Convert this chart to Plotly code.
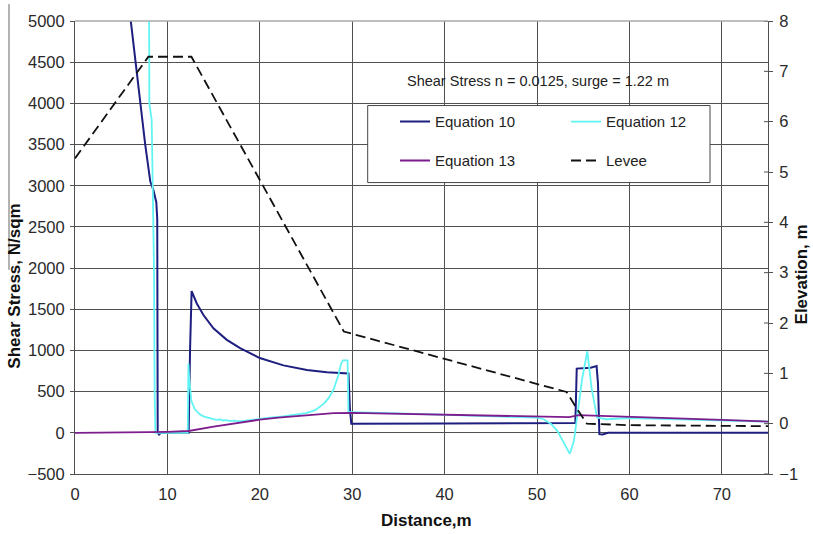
import plotly.graph_objects as go

# ---------------- data ----------------
eq10_x = [0, 6.03, 6.55, 7.1, 7.6, 8.15, 8.48, 8.8, 8.9, 8.95, 9.1, 9.3, 12.3, 12.45, 12.62,
          13.18, 13.9, 14.98, 16.43, 17.87, 20.0, 22.56, 25.1, 27.26, 29.42, 29.6, 29.75, 29.9,
          40, 50, 54.15, 54.3, 55.0, 55.8, 56.45, 56.6, 56.75, 57.1, 57.7, 60, 75]
eq10_y = [10800, 5000, 4500, 4000, 3500, 3050, 2950, 2800, 2600, 0, -20, 0, 0, 1000, 1720,
          1570, 1430, 1269, 1129, 1028, 908, 819, 763, 735, 723, 720, 300, 110,
          112, 115, 120, 780, 782, 790, 810, 600, -16, -20, 0, 0, 0]

eq12_x = [0, 7.9, 8.02, 8.05, 8.3, 8.45, 8.55, 8.62, 8.7, 12.2, 12.28, 12.35, 12.6, 12.96,
          13.5, 13.9, 14.3, 14.7, 15.0, 15.3, 15.7, 16.0, 16.4, 16.8, 17.2, 17.8, 18.5, 19.3,
          20.0, 21.1, 22.5, 24.0, 25.0, 26.0, 27.0, 27.5, 28.0, 28.5, 28.8, 29.0, 29.5, 29.6,
          30, 35, 40, 45, 50, 50.7, 51.5, 52.2, 52.9, 53.55, 54.0, 54.4, 54.9, 55.45, 55.9,
          56.5, 57.5, 60, 65, 70, 75]
eq12_y = [40000, 12000, 5000, 4000, 3800, 2900, 2000, 500, 0, 0, 840, 666, 386, 285,
          225, 200, 184, 176, 165, 157, 162, 150, 155, 143, 148, 140, 150, 158,
          175, 184, 200, 222, 240, 275, 360, 430, 530, 700, 840, 880, 880, 250,
          250, 235, 217, 200, 184, 165, 110, 24, -116, -255, -96, 225, 666, 990, 546,
          185, 165, 180, 165, 150, 136]

eq13_x = [0, 4, 6, 8, 10, 12.3, 15, 17, 20, 22, 25, 28, 30, 35, 40, 45, 50, 53.5, 54.5, 56, 60, 65, 70, 75]
eq13_y = [0, 0, 3, 8, 12, 22, 75, 110, 160, 185, 210, 240, 242, 230, 217, 205, 193, 190, 215, 210, 190, 175, 157, 136]

levee_x = [0, 7.94, 12.6, 29.1, 53.2, 54.3, 55.4, 60, 75]
levee_y = [5.27, 7.29, 7.29, 1.83, 0.63, 0.3, 0.0, -0.03, -0.05]

x_ticks = [0, 10, 20, 30, 40, 50, 60, 70]
y_ticks = list(range(-500, 5001, 500))
y2_ticks = list(range(-1, 9))

title_text = "Shear Stress n = 0.0125, surge = 1.22 m"

# ---------------- figure ----------------
FONT = "Liberation Sans, Arial, sans-serif"
fig = go.Figure()
fig.add_trace(go.Scatter(x=eq10_x, y=eq10_y, name="Equation 10", mode="lines",
                         line=dict(color="#1e1e80", width=2), legend="legend"))
fig.add_trace(go.Scatter(x=eq12_x, y=eq12_y, name="Equation 12", mode="lines",
                         line=dict(color="#62f4f4", width=1.8), legend="legend"))
fig.add_trace(go.Scatter(x=eq13_x, y=eq13_y, name="Equation 13", mode="lines",
                         line=dict(color="#7d1c8c", width=1.8), legend="legend2"))
fig.add_trace(go.Scatter(x=levee_x, y=levee_y, name="Levee", mode="lines", yaxis="y2",
                         line=dict(color="#111111", width=1.8, dash="10px,5px"), legend="legend2"))

W, H = 813, 534
ml, mr, mt, mb = 75, 45, 17, 60
pw, ph = W - ml - mr, H - mt - mb


def px(x):
    return (x - ml) / pw


def py(y):
    return (H - mb - y) / ph


grid = "#505050"
tickfont = dict(family=FONT, size=16.5, color="#2a2a2a")
legfont = dict(family=FONT, size=15, color="#222")

fig.update_layout(
    width=W, height=H,
    margin=dict(l=ml, r=mr, t=mt, b=mb),
    paper_bgcolor="white", plot_bgcolor="white",
    font=dict(family=FONT, color="#222"),
    xaxis=dict(range=[0, 75], tickvals=x_ticks, showgrid=True, gridcolor=grid, gridwidth=1,
               zeroline=False, showline=True, linecolor=grid, linewidth=1,
               ticks="", tickfont=tickfont, ticklabelstandoff=5),
    yaxis=dict(range=[-500, 5000], tickvals=y_ticks, showgrid=True, gridcolor=grid, gridwidth=1,
               zeroline=False, showline=True, linecolor=grid, linewidth=1,
               ticks="outside", ticklen=4, tickcolor=grid, tickfont=tickfont, ticklabelstandoff=2),
    yaxis2=dict(range=[-1, 8], tickvals=y2_ticks, overlaying="y", side="right", showgrid=False,
                zeroline=False, showline=True, linecolor=grid, linewidth=1,
                ticks="outside", ticklen=4, tickcolor=grid, tickfont=tickfont, ticklabelstandoff=3),
    legend=dict(orientation="h", x=px(395), y=py(118.7), xanchor="left", yanchor="middle",
                bgcolor="rgba(0,0,0,0)", borderwidth=0, entrywidth=126,
                font=legfont, itemwidth=30),
    legend2=dict(orientation="h", x=px(395), y=py(158), xanchor="left", yanchor="middle",
                 bgcolor="rgba(0,0,0,0)", borderwidth=0, entrywidth=126,
                 font=legfont, itemwidth=30),
    showlegend=True,
)

shapes = [
    # legend frame
    dict(type="rect", xref="paper", yref="paper", x0=px(367.7), x1=px(710), y0=py(180), y1=py(102.3),
         line=dict(color="#444", width=1), fillcolor="white", layer="above"),
    # top border
    dict(type="line", xref="paper", yref="paper", x0=0, x1=1, y0=1, y1=1,
         line=dict(color="#a8a8a8", width=1.5), layer="above"),
]
# inner half of the crossing ticks on the right axis
for t in y2_ticks:
    shapes.append(dict(type="line", xref="paper", yref="y2", x0=1 - 4 / pw, x1=1, y0=t, y1=t,
                       line=dict(color=grid, width=1), layer="above"))
# stray frame edge at far left of the source image
shapes.append(dict(type="line", xref="paper", yref="paper", x0=px(9), x1=px(9), y0=py(268), y1=py(0),
                   line=dict(color="#666", width=1)))
fig.update_layout(shapes=shapes)

common = dict(xref="paper", yref="paper", showarrow=False, xanchor="center", yanchor="middle")
fig.add_annotation(text=title_text, x=px(538), y=py(77.7),
                   font=dict(family=FONT, size=14.5, color="#222"), **common)
fig.add_annotation(text="<b>Shear Stress, N/sqm</b>", x=px(15), y=py(285), textangle=-90,
                   font=dict(family=FONT, size=17, color="#111"), **common)
fig.add_annotation(text="<b>Elevation, m</b>", x=px(801.7), y=py(273), textangle=-90,
                   font=dict(family=FONT, size=17, color="#111"), **common)
fig.add_annotation(text="<b>Distance,m</b>", x=px(426.7), y=py(521),
                   font=dict(family=FONT, size=17, color="#111"), **common)

fig.write_html("out.html")
